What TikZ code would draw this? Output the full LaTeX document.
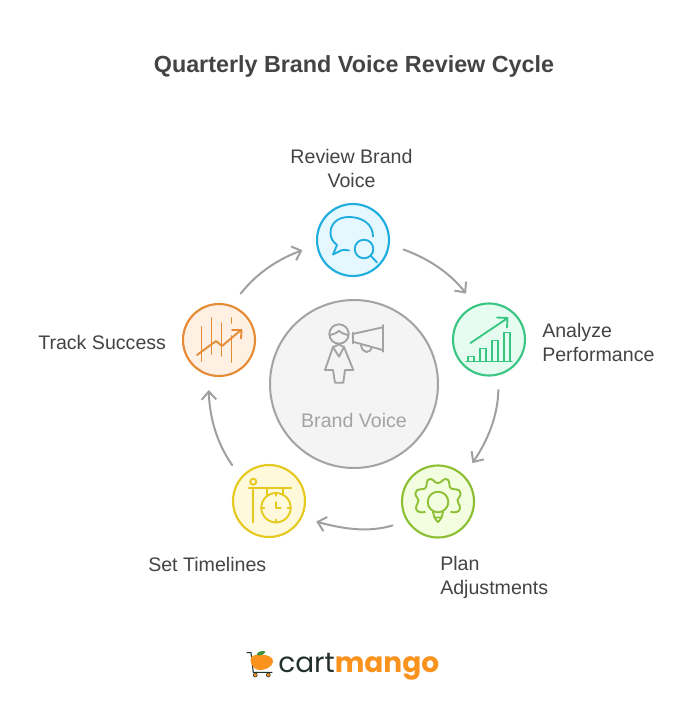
\documentclass[tikz,border=0pt]{standalone}
\usepackage{fontspec}
\setmainfont{Liberation Sans}
\newfontfamily\logofont{Poppins}
\usetikzlibrary{arrows.meta}
\definecolor{ink}{HTML}{444444}
\definecolor{arrowgray}{HTML}{A0A0A0}
\definecolor{cblue}{HTML}{1FADDD}\definecolor{fblue}{HTML}{E6F8FF}
\definecolor{cgreen}{HTML}{38C682}\definecolor{fgreen}{HTML}{E6FCF1}
\definecolor{clime}{HTML}{8CBF32}\definecolor{flime}{HTML}{F3FDDF}
\definecolor{cyel}{HTML}{E5C91E}\definecolor{fyel}{HTML}{FFF9DC}
\definecolor{cora}{HTML}{E58A35}\definecolor{fora}{HTML}{FFF0E4}
\definecolor{cgray}{HTML}{A3A3A3}\definecolor{fgray}{HTML}{F4F4F4}
\definecolor{logoorange}{HTML}{F9931E}\definecolor{logodark}{HTML}{22302E}\definecolor{logoleaf}{HTML}{3F8F3A}
\tikzset{
  x=0.75pt,y=-0.75pt,
  stage/.style={circle,draw=#1,line width=1.6pt,inner sep=0pt,minimum size=54pt},
  hub/.style={circle,draw=cgray,fill=fgray,line width=1.5pt,inner sep=0pt,minimum size=126pt},
  flow/.style={draw=arrowgray,line width=1.5pt,line cap=round,-{Straight Barb[length=6pt,width=11pt,line width=1.5pt]},shorten <=11pt,shorten >=11pt},
  label/.style={text=ink,font=\fontsize{14.7pt}{18pt}\selectfont,inner sep=0pt,align=left},
  icon/.style={line width=1.4pt,line cap=round,line join=round,fill=none}
}
\begin{document}
\begin{tikzpicture}
\useasboundingbox (0,0) rectangle (684,710);
\fill[white] (0,0) rectangle (684,710);
\node[text=ink,font=\fontsize{17.5pt}{22pt}\selectfont\bfseries,inner sep=0pt] (title) at (354,66.5) {Quarterly Brand Voice Review Cycle};

\node[hub] (hubc) at (354,384) {};
\node[stage=cblue,fill=fblue] (review) at (353,240) {};
\node[stage=cgreen,fill=fgreen] (analyze) at (489,339.5) {};
\node[stage=clime,fill=flime] (plan) at (438,501.5) {};
\node[stage=cyel,fill=fyel] (timelines) at (269,501) {};
\node[stage=cora,fill=fora] (track) at (219,340) {};

\draw[flow] (review.-7) to[out=-20,in=128] (analyze.112);
\draw[flow] (analyze.-75) to[out=-91,in=56] (plan.45);
\draw[flow] (plan.212) to[out=197,in=-15] (timelines.-27);
\draw[flow] (timelines.140) to[out=125,in=-88] (track.-107);
\draw[flow] (track.70) to[out=52,in=200] (review.188);

\node[label,align=center] (l1) at (351.5,168) {Review Brand\\Voice};
\node[label,anchor=west] (l2) at (542,342) {Analyze\\Performance};
\node[label,anchor=west] (l3) at (440,577) {Plan\\Adjustments};
\node[label,anchor=west] (l4) at (148,564) {Set Timelines};
\node[label,anchor=west] (l5) at (38,342) {Track Success};
\node[text=cgray,font=\fontsize{14.7pt}{18pt}\selectfont,inner sep=0pt] (l0) at (354,420) {Brand Voice};

% review icon
\draw[icon,cblue] (373,236.5) .. controls (373,224) and (362,217) .. (349,217) .. controls (336,217) and (330.5,225) .. (330.5,233) .. controls (330.5,238) and (333,242) .. (337,245) -- (333,254.5) -- (341,250.5) .. controls (343,249.5) and (346,249.5) .. (349,250.5);
\draw[icon,cblue] (364,249) circle (9.3);
\draw[icon,cblue] (370.5,255.5) -- (377,262.5);

% analyze icon
\draw[icon,cgreen] (466,361.5) -- (512,361.5);
\draw[icon,cgreen] (468,361.5) -- (468,356.5) -- (474,356.5) -- (474,361.5);
\draw[icon,cgreen] (480,361.5) -- (480,348.5) -- (486,348.5) -- (486,361.5);
\draw[icon,cgreen] (492,361.5) -- (492,340.5) -- (498,340.5) -- (498,361.5);
\draw[icon,cgreen] (504,361.5) -- (504,332.5) -- (510,332.5) -- (510,361.5);
\draw[icon,cgreen] (470.5,343) -- (507,318.5);
\draw[icon,cgreen] (497,317.5) -- (507.5,318) -- (507,327.5);

% plan icon
\draw[icon,clime] (425,512) .. controls (421,513) and (416,512) .. (416,508) .. controls (416,504) and (419,503) .. (418.5,500) .. controls (418,497) and (415,497) .. (415.5,493) .. controls (416,488) and (422,490) .. (425,488.5) .. controls (428,487) and (425,479) .. (430,479) .. controls (434,479) and (434,483) .. (438,483) .. controls (442,483) and (442,479) .. (446,479) .. controls (451,479) and (448,487) .. (451,488.5) .. controls (454,490) and (460,488) .. (460.5,493) .. controls (461,497) and (458,497) .. (457.5,500) .. controls (457,503) and (460,504) .. (460,508) .. controls (460,512) and (455,513) .. (451,512);
\draw[icon,clime] (438,502) circle (10.3);
\draw[icon,clime] (433,512) -- (434.5,517.5) -- (441.5,517.5) -- (443,512);
\draw[icon,clime] (434.5,517.5) .. controls (435,520) and (437,520) .. (438,522) .. controls (439,520) and (441,520) .. (441.5,517.5);

% timelines icon
\draw[icon,cyel] (248.5,488.3) -- (291.5,488.3);
\draw[icon,cyel] (253.3,488.3) -- (253.3,522.5);
\draw[icon,cyel] (253.3,481.7) circle (3);
\draw[icon,cyel] (266.7,488.3) -- (266.7,495);
\draw[icon,cyel] (283,488.3) -- (283,495);
\draw[icon,cyel] (276,507.7) circle (14.7);
\draw[icon,cyel] (276,493) -- (276,496);\draw[icon,cyel] (276,519.5) -- (276,522.4);
\draw[icon,cyel] (261.3,507.7) -- (264.3,507.7);\draw[icon,cyel] (287.7,507.7) -- (290.7,507.7);
\draw[icon,cyel] (276,502) -- (276,508.3) -- (280.7,508.3);

% track icon
\draw[icon,cora] (201.5,327) -- (201.5,361);
\draw[icon,cora] (211.5,318) -- (211.5,354);
\draw[icon,cora] (221.5,323) -- (221.5,356);
\draw[icon,cora] (231.5,318) -- (231.5,323);
\draw[icon,cora] (231.5,336) -- (231.5,362);
\draw[icon,cora] (197,355) -- (216,341) -- (222,346) -- (241,330);
\draw[icon,cora] (232,330) -- (241.5,330) -- (241,338.5);

% hub icon
\draw[icon,cgray] (339,334) circle (9.7);
\draw[icon,cgray] (330,335) .. controls (334,334) and (337,333) .. (339,331) .. controls (341,333) and (344,334) .. (348,335);
\draw[icon,cgray] (333,347) -- (325,370) -- (333,370) -- (335,382.7) -- (343.3,382.7) -- (345,370) -- (353.3,370) -- (344,347) -- (339,344.5) -- cycle;
\draw[icon,cgray] (333,347) -- (339,356.7) -- (344,347);
\draw[icon,cgray] (352.7,332.7) -- (352.7,343.3);
\draw[icon,cgray] (352.7,334) -- (382.7,327.3);
\draw[icon,cgray] (352.7,341.7) -- (382.7,350);
\draw[icon,cgray] (382.7,325) -- (382.7,351.7);
\draw[icon,cgray] (361,345) .. controls (362,354) and (371,354) .. (371.7,346.7);

% logo
\node[font=\logofont\fontsize{21pt}{26pt}\selectfont,inner sep=0pt,anchor=base west,text=logodark] (logo) at (278,672) {cart\textcolor{logoorange}{\bfseries mango}};
\draw[logodark,line width=0.8pt] (246.7,652.7) -- (251,652.7) -- (253.3,672.3) -- (272.3,672.3);
\fill[logoorange] (250.5,660) .. controls (250,655) and (256,654.5) .. (262,654.8) .. controls (268,655) and (273.5,657) .. (273,662) .. controls (272,667) and (265,670.5) .. (259,670) .. controls (254,669.5) and (251,665) .. (250.5,660) -- cycle;
\fill[logoleaf] (256.5,655) .. controls (258,651) and (262,650.5) .. (265.5,651.5) .. controls (264,655) and (260,656) .. (256.5,655) -- cycle;
\filldraw[fill=logoorange,draw=logodark,line width=0.4pt] (255.3,675) circle (2);
\filldraw[fill=logoorange,draw=logodark,line width=0.4pt] (268.3,675) circle (2);
\end{tikzpicture}
\end{document}
